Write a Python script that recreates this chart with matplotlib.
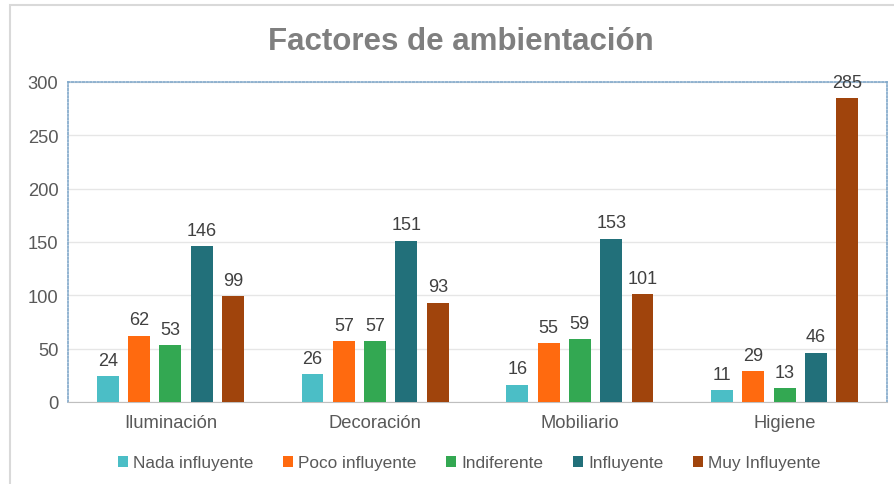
import matplotlib
matplotlib.use("Agg")
import matplotlib.pyplot as plt
import numpy as np
from matplotlib.patches import Rectangle

plt.rcParams['font.family'] = ['Liberation Sans', 'DejaVu Sans']

categorias = ['Iluminación', 'Decoración', 'Mobiliario', 'Higiene']
series = ['Nada influyente', 'Poco influyente', 'Indiferente', 'Influyente', 'Muy Influyente']
nada = [24, 26, 16, 11]
poco = [62, 57, 55, 29]
indiferente = [53, 57, 59, 13]
influyente = [146, 151, 153, 46]
muy = [99, 93, 101, 285]
colores = ['#4BBEC6', '#FF6A0F', '#33A852', '#22707A', '#A0440C']

valores = [nada, poco, indiferente, influyente, muy]

fig = plt.figure(figsize=(8.94, 4.85), dpi=100)
# marco gris del grafico
fig.patches.append(Rectangle((10 / 894, -0.05), 1.2, 1 - 6 / 485 + 0.05,
                             transform=fig.transFigure, fill=False,
                             edgecolor='#D9D9D9', linewidth=1.5))

ax = fig.add_axes([68 / 894, 82 / 485, (887 - 68) / 894, (403 - 83) / 485])

x = np.arange(len(categorias))
ancho = 0.107
paso = 0.153
for i, (nombre, vals) in enumerate(zip(series, valores)):
    pos = x + (i - 2) * paso
    barras = ax.bar(pos, vals, width=ancho, color=colores[i], label=nombre, zorder=3)
    for b, v in zip(barras, vals):
        ax.text(b.get_x() + b.get_width() / 2, v + 7, str(v), ha='center', va='bottom',
                fontsize=13, color='#404040')

ax.set_xlim(-0.5, 3.5)
ax.set_ylim(0, 300)
ax.set_yticks(range(0, 301, 50))
ax.set_xticks(x)
ax.set_xticklabels(categorias)
ax.tick_params(axis='both', length=0, labelsize=13.2, labelcolor='#595959')
ax.tick_params(axis='x', pad=9)
ax.tick_params(axis='y', pad=7)
ax.grid(axis='y', color='#E6E6E6', linewidth=1, zorder=0)
for lado in ['top', 'right', 'left']:
    ax.spines[lado].set_visible(True)
    ax.spines[lado].set_linestyle((0, (1, 1.2)))
    ax.spines[lado].set_color('#7FA7C9')
    ax.spines[lado].set_linewidth(1.2)
ax.spines['bottom'].set_color('#BFBFBF')

fig.text(0.515, 1 - 42 / 485, 'Factores de ambientación', ha='center', va='center',
         fontsize=22.5, fontweight='bold', color='#7F7F7F')

ax.legend(loc='center', bbox_to_anchor=(0.49, -0.19), ncol=5, frameon=False,
          fontsize=12.4, handlelength=0.6, handleheight=0.6, handletextpad=0.3,
          columnspacing=1.7, labelcolor='#595959')

fig.savefig('out.png', dpi=100)
